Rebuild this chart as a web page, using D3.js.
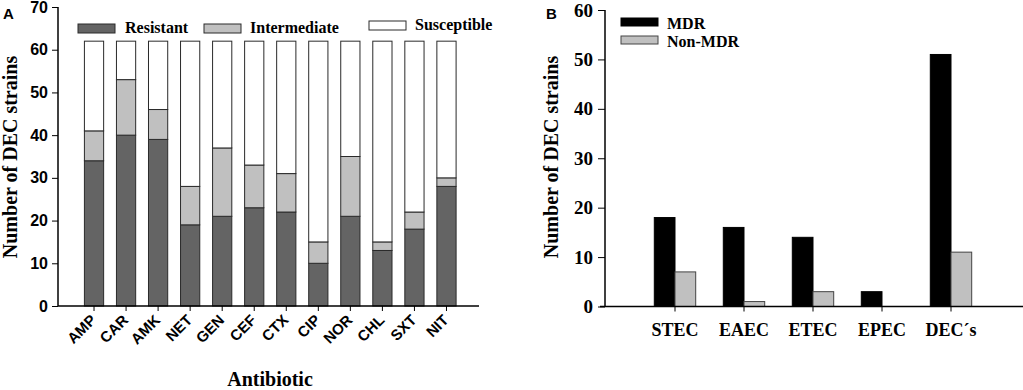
<!DOCTYPE html>
<html><head><meta charset="utf-8">
<script src="https://cdn.jsdelivr.net/npm/d3@7/dist/d3.min.js"></script>
<style>body{margin:0;background:#fff}svg{display:block}</style>
</head><body><svg id="c" width="1023" height="390"></svg>
<script>
// Panel A data
const antibiotics = ["AMP","CAR","AMK","NET","GEN","CEF","CTX","CIP","NOR","CHL","SXT","NIT"];
const resistant    = [34,40,39,19,21,23,22,10,21,13,18,28];
const intermediate = [7,13,7,9,16,10,9,5,14,2,4,2];
const susceptible  = [21,9,16,34,25,29,31,47,27,47,40,32];
const yTicksA = [0,10,20,30,40,50,60,70];
const seriesA = ["Resistant","Intermediate","Susceptible"];
// Panel B data
const pathotypes = ["STEC","EAEC","ETEC","EPEC","DEC\u00B4s"];
const mdr    = [18,16,14,3,51];
const nonMdr = [7,1,3,0,11];
const yTicksB = [0,10,20,30,40,50,60];
const seriesB = ["MDR","Non-MDR"];

const svg = d3.select("#c");
const serif = "'Liberation Serif','Times New Roman',serif";
const sans = "'Liberation Sans',Arial,sans-serif";

// ---------- Panel A ----------
const colA = {Resistant:"#646464", Intermediate:"#c0c0c0", Susceptible:"#ffffff"};
const yA = d3.scaleLinear().domain([0,70]).range([306,7]);
const xA = d3.scaleBand().domain(antibiotics).range([78,462.5]).paddingInner(0.4).paddingOuter(0.2);
const gA = svg.append("g");
const rowsA = antibiotics.map((a,i)=>({cat:a,Resistant:resistant[i],Intermediate:intermediate[i],Susceptible:susceptible[i]}));
const stackA = d3.stack().keys(seriesA)(rowsA);
stackA.forEach(layer=>{
  gA.append("g").selectAll("rect").data(layer).join("rect")
    .attr("x",d=>xA(d.data.cat)).attr("width",xA.bandwidth())
    .attr("y",d=>yA(d[1])).attr("height",d=>Math.max(0,yA(d[0])-yA(d[1])))
    .attr("fill",colA[layer.key]).attr("stroke","#2a2a2a").attr("stroke-width",1);
});
// y axis A
const axYA = gA.append("g").attr("transform","translate(58,0)")
  .call(d3.axisLeft(yA).tickValues(yTicksA).tickSize(6).tickPadding(4));
axYA.select(".domain").attr("stroke","#000").attr("stroke-width",1.5).attr("d","M0,"+yA(70)+"V"+yA(0));
axYA.selectAll("text").attr("font-family",sans).attr("font-weight","bold").attr("font-size",16).attr("fill","#000");
// x axis A (ticks only; labels drawn rotated below)
const axXA = gA.append("g").attr("transform","translate(0,306)")
  .call(d3.axisBottom(xA).tickSize(5).tickFormat(""));
axXA.select(".domain").attr("stroke","#000").attr("stroke-width",1.5).attr("d","M58,0H479");
gA.append("g").selectAll("text").data(antibiotics).join("text")
  .text(d=>d)
  .attr("transform",d=>"translate("+(xA(d)+xA.bandwidth()/2+3)+",321) rotate(-45)")
  .attr("text-anchor","end")
  .attr("font-family",sans).attr("font-weight","bold").attr("font-size",15).attr("fill","#000");
gA.append("text").text("Antibiotic").attr("x",270).attr("y",386).attr("text-anchor","middle")
  .attr("font-family",serif).attr("font-weight","bold").attr("font-size",20);
gA.append("text").text("Number of DEC strains").attr("transform","translate(17,157) rotate(-90)")
  .attr("text-anchor","middle").attr("font-family",serif).attr("font-weight","bold").attr("font-size",20);
gA.append("text").text("A").attr("x",3).attr("y",19).attr("font-family",sans).attr("font-weight","bold").attr("font-size",15);
// legend A
const legA = [{k:"Resistant",x:78,y:24,tx:125,ty:33},{k:"Intermediate",x:204,y:24,tx:250,ty:33},{k:"Susceptible",x:369,y:21,tx:415,ty:30}];
legA.forEach(l=>{
  gA.append("rect").attr("x",l.x).attr("y",l.y).attr("width",37).attr("height",9)
    .attr("fill",colA[l.k]).attr("stroke","#2a2a2a").attr("stroke-width",1);
  gA.append("text").text(l.k).attr("x",l.tx).attr("y",l.ty)
    .attr("font-family",serif).attr("font-weight","bold").attr("font-size",16);
});

// ---------- Panel B ----------
const colB = {"MDR":"#000000","Non-MDR":"#c0c0c0"};
const strokeB = {"MDR":"#000000","Non-MDR":"#444"};
const yB = d3.scaleLinear().domain([0,60]).range([306.5,10]);
const xB = d3.scaleBand().domain(pathotypes).range([640.5,985.5]).paddingInner(0.4).paddingOuter(0.2);
const xSub = d3.scaleBand().domain(seriesB).range([0,xB.bandwidth()]);
const gB = svg.append("g");
const rowsB = pathotypes.map((p,i)=>({cat:p,vals:[{k:"MDR",v:mdr[i]},{k:"Non-MDR",v:nonMdr[i]}]}));
const grp = gB.selectAll("g.grp").data(rowsB).join("g").attr("class","grp")
  .attr("transform",d=>"translate("+xB(d.cat)+",0)");
grp.selectAll("rect").data(d=>d.vals.filter(v=>v.v>0)).join("rect")
  .attr("x",d=>xSub(d.k)).attr("width",xSub.bandwidth())
  .attr("y",d=>yB(d.v)).attr("height",d=>yB(0)-yB(d.v))
  .attr("fill",d=>colB[d.k]).attr("stroke",d=>strokeB[d.k]).attr("stroke-width",1);
const axYB = gB.append("g").attr("transform","translate(605,0)")
  .call(d3.axisLeft(yB).tickValues(yTicksB).tickSize(7).tickPadding(5));
axYB.select(".domain").attr("stroke","#000").attr("stroke-width",1.5).attr("d","M0,"+yB(60)+"V"+yB(0));
axYB.selectAll("text").attr("font-family",serif).attr("font-weight","bold").attr("font-size",19).attr("fill","#000");
const axXB = gB.append("g").attr("transform","translate(0,306.5)")
  .call(d3.axisBottom(xB).tickSize(5).tickPadding(12));
axXB.select(".domain").attr("stroke","#000").attr("stroke-width",1.5).attr("d","M600,0H1023");
axXB.selectAll("text").attr("font-family",serif).attr("font-weight","bold").attr("font-size",18).attr("fill","#000");
gB.append("text").text("Number of DEC strains").attr("transform","translate(558,157) rotate(-90)")
  .attr("text-anchor","middle").attr("font-family",serif).attr("font-weight","bold").attr("font-size",20);
gB.append("text").text("B").attr("x",546).attr("y",19).attr("font-family",sans).attr("font-weight","bold").attr("font-size",15);
const legB = [{k:"MDR",y:18,ty:29},{k:"Non-MDR",y:36,ty:47}];
legB.forEach(l=>{
  gB.append("rect").attr("x",621).attr("y",l.y).attr("width",37).attr("height",8)
    .attr("fill",colB[l.k]).attr("stroke",strokeB[l.k]).attr("stroke-width",1);
  gB.append("text").text(l.k).attr("x",667).attr("y",l.ty)
    .attr("font-family",serif).attr("font-weight","bold").attr("font-size",16);
});
</script></body></html>
